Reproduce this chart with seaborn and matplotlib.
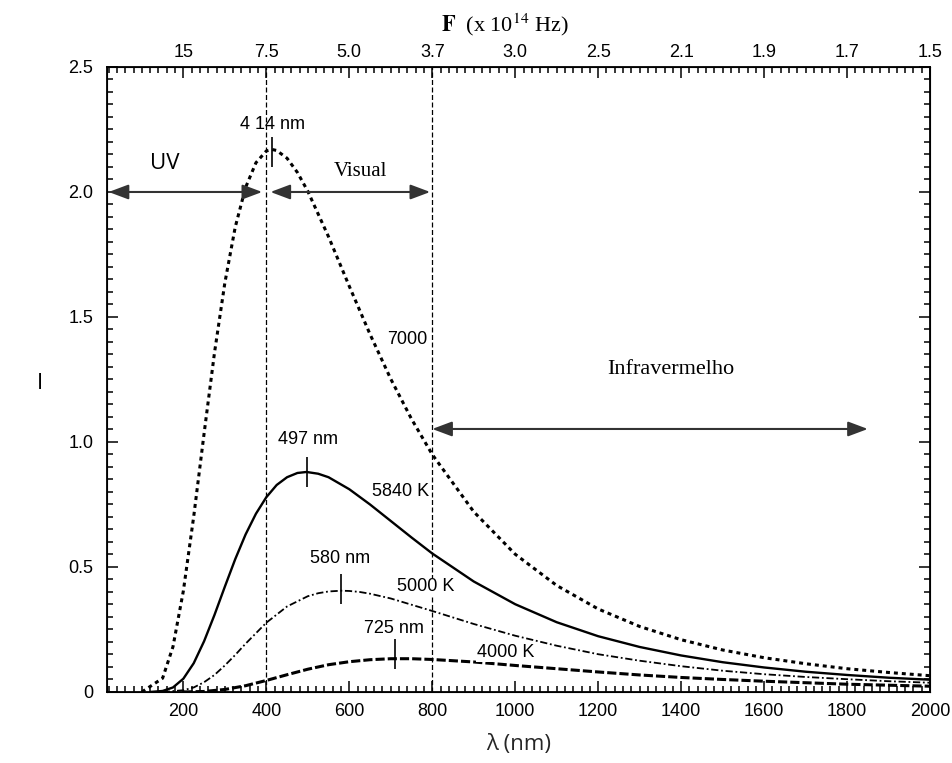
import numpy as np
import seaborn as sns
import matplotlib.pyplot as plt

# curves (wavelength in nm, intensity)
wl_7000 = [100, 150, 175, 200, 225, 250, 275, 300, 325, 350, 375, 400, 414, 425, 450, 475, 500, 550, 600, 650,
           700, 750, 800, 900, 1000, 1100, 1200, 1300, 1400, 1500, 1600, 1700, 1800, 1900, 2000]
I_7000 = [0.0, 0.055, 0.181, 0.404, 0.702, 1.034, 1.356, 1.636, 1.859, 2.018, 2.117, 2.164, 2.170, 2.166,
          2.135, 2.078, 2.003, 1.821, 1.623, 1.431, 1.252, 1.092, 0.950, 0.721, 0.551, 0.426, 0.332, 0.262,
          0.209, 0.168, 0.137, 0.113, 0.093, 0.078, 0.065]

wl_5840 = [120, 150, 175, 200, 225, 250, 275, 300, 325, 350, 375, 400, 425, 450, 475, 497, 525, 550, 600,
           650, 700, 750, 800, 900, 1000, 1100, 1200, 1300, 1400, 1500, 1600, 1700, 1800, 1900, 2000]
I_5840 = [0.0, 0.004, 0.018, 0.053, 0.115, 0.203, 0.308, 0.421, 0.531, 0.630, 0.713, 0.779, 0.828, 0.859,
          0.876, 0.880, 0.873, 0.859, 0.811, 0.750, 0.684, 0.618, 0.554, 0.442, 0.351, 0.279, 0.223, 0.180,
          0.146, 0.119, 0.098, 0.081, 0.068, 0.057, 0.049]

wl_5000 = [150, 200, 225, 250, 275, 300, 325, 350, 400, 450, 500, 525, 550, 580, 600, 625, 650, 700,
           800, 900, 1000, 1100, 1200, 1300, 1400, 1500, 1600, 1700, 1800, 1900, 2000]
I_5000 = [0.0, 0.007, 0.018, 0.039, 0.068, 0.106, 0.148, 0.193, 0.277, 0.342, 0.383, 0.395, 0.402, 0.405,
          0.404, 0.400, 0.393, 0.374, 0.324, 0.272, 0.225, 0.185, 0.151, 0.125, 0.103, 0.085, 0.071, 0.060,
          0.051, 0.043, 0.037]

wl_4000 = [200, 250, 300, 350, 400, 450, 500, 550, 600, 650, 700, 725, 750,
           800, 900, 1000, 1100, 1200, 1300, 1400, 1500, 1600, 1700, 1800, 1900, 2000]
I_4000 = [0.0, 0.002, 0.010, 0.025, 0.046, 0.069, 0.091, 0.109, 0.121, 0.129, 0.133, 0.133, 0.133,
          0.130, 0.120, 0.106, 0.093, 0.080, 0.068, 0.058, 0.050, 0.043, 0.037, 0.031, 0.027, 0.023]

# peak markers and labels
peak_wl = [414, 497, 580, 710]
peak_I = [2.16, 0.88, 0.41, 0.15]
peak_txt = ['4 14 nm', '497 nm', '580 nm', '725 nm']
peak_txt_pos = [(414, 2.27), (501, 1.01), (577, 0.535), (708, 0.255)]

temp_txt = ['7000', '5840 K', '5000 K', '4000 K']
temp_txt_pos = [(740, 1.41), (723, 0.80), (783, 0.42), (976, 0.156)]

x_ticks = [200, 400, 600, 800, 1000, 1200, 1400, 1600, 1800, 2000]
freq_labels = ['15', '7.5', '5.0', '3.7', '3.0', '2.5', '2.1', '1.9', '1.7', '1.5']
y_ticks = [0, 0.5, 1.0, 1.5, 2.0, 2.5]
y_labels = ['0', '0.5', '1.0', '1.5', '2.0', '2.5']

sns.set_style("ticks", {"axes.edgecolor": "black", "xtick.color": "black", "ytick.color": "black",
                        "text.color": "black"})
plt.rcParams['font.family'] = ['Liberation Sans', 'DejaVu Sans']
plt.rcParams['mathtext.fontset'] = 'stix'

fig = plt.figure(figsize=(9.53, 7.63), dpi=100)
ax = fig.add_axes([0.1123, 0.0931, 0.8636, 0.8191])

sns.lineplot(x=wl_7000, y=I_7000, ax=ax, color='black', lw=2.2, linestyle=(0, (1.3, 1.3)))
sns.lineplot(x=wl_5840, y=I_5840, ax=ax, color='black', lw=1.7)
sns.lineplot(x=wl_5000, y=I_5000, ax=ax, color='black', lw=1.3, linestyle=(0, (4, 1.5, 1, 1.5)))
sns.lineplot(x=wl_4000, y=I_4000, ax=ax, color='black', lw=2.2, linestyle=(0, (3, 1)))

# region borders
for xv in [400, 800]:
    ax.axvline(xv, color='black', lw=0.9, linestyle=(0, (4, 2)))

ax.vlines(peak_wl, [v - 0.06 for v in peak_I], [v + 0.06 for v in peak_I], color='black', lw=1.2)
for t, (x, y) in zip(peak_txt, peak_txt_pos):
    ax.text(x, y, t, ha='center', va='center', fontsize=13)
for t, (x, y) in zip(temp_txt, temp_txt_pos):
    ax.text(x, y, t, ha='center', va='center', fontsize=13, bbox=dict(fc='white', ec='none', pad=0.5))

# arrows
aprops = dict(arrowstyle='<|-|>,head_length=0.8,head_width=0.3', color='#333333', lw=1.5,
              mutation_scale=15, shrinkA=0, shrinkB=0)
ax.annotate('', xy=(20, 2.0), xytext=(390, 2.0), arrowprops=aprops)
ax.annotate('', xy=(410, 2.0), xytext=(795, 2.0), arrowprops=aprops)
ax.annotate('', xy=(800, 1.052), xytext=(1850, 1.052), arrowprops=aprops)

ax.text(154, 2.115, 'UV', ha='center', va='center', fontsize=16, family=['Open Sans', 'DejaVu Sans'])
ax.text(627, 2.08, 'Visual', ha='center', va='center', fontsize=15, family='Liberation Serif')
ax.text(1374, 1.29, 'Infravermelho', ha='center', va='center', fontsize=16, family='Liberation Serif')

ax.set_xlim(16, 2000)
ax.set_ylim(0, 2.5)
ax.set_xticks(x_ticks)
ax.set_xticks(np.arange(20, 2001, 20), minor=True)
ax.set_yticks(y_ticks)
ax.set_yticklabels(y_labels)
ax.set_yticks(np.arange(0, 2.51, 0.05), minor=True)
ax.tick_params(which='both', direction='in', right=True, width=1.1, labelsize=13)
ax.tick_params(which='major', length=8)
ax.tick_params(which='minor', length=4.5)
ax.tick_params(axis='y', pad=10)
ax.tick_params(axis='x', pad=8)
for s in ax.spines.values():
    s.set_linewidth(1.3)

top = ax.twiny()
top.set_xlim(ax.get_xlim())
top.set_xticks(x_ticks)
top.set_xticklabels(freq_labels)
top.set_xticks(np.arange(20, 2001, 20), minor=True)
top.tick_params(which='both', direction='in', width=1.1, labelsize=13, pad=4)
top.tick_params(which='major', length=8)
top.tick_params(which='minor', length=4.5)

ax.set_xlabel('λ (nm)', fontsize=16, family=['Open Sans', 'DejaVu Sans'], labelpad=10)
ax.set_ylabel('')
ax.text(-0.081, 0.494, 'I', transform=ax.transAxes, ha='center', va='center', fontsize=16,
        family=['Open Sans', 'DejaVu Sans'])
fig.text(505 / 953, 1 - 25 / 763, r'$\mathbf{F}$  (x 10$^{14}$ Hz)', ha='center', va='center',
         fontsize=16, family='Liberation Serif')

fig.savefig('out.png', dpi=100)
